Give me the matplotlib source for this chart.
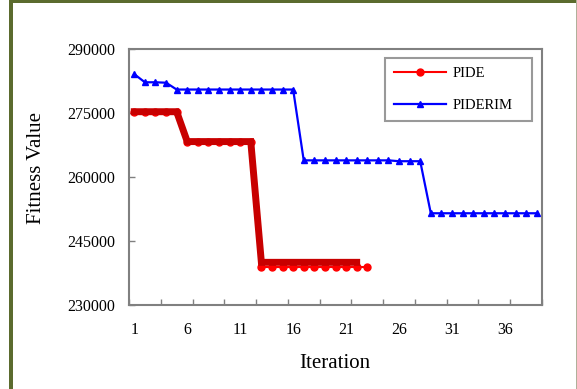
import matplotlib
matplotlib.use("Agg")
from matplotlib import pyplot as plt
from matplotlib.patches import Rectangle
from matplotlib.ticker import FixedLocator

plt.rcParams['font.family'] = ['Liberation Serif', 'DejaVu Serif']

# iteration numbers and fitness values
pide_iter = [1, 2, 3, 4, 5, 6, 7, 8, 9, 10, 11, 12, 13, 14, 15, 16, 17, 18, 19, 20, 21, 22, 23]
pide_vals = [275300, 275300, 275300, 275300, 275300,
             268300, 268300, 268300, 268300, 268300, 268300, 268300,
             238900, 238900, 238900, 238900, 238900, 238900, 238900, 238900, 238900, 238900, 238900]
# the heavy dark red trace drawn over PIDE
pide_bold_iter = [1, 2, 3, 4, 5, 6, 7, 8, 9, 10, 11, 12, 13, 14, 15, 16, 17, 18, 19, 20, 21, 22]
pide_bold_vals = [275300, 275300, 275300, 275300, 275300,
                  268300, 268300, 268300, 268300, 268300, 268300, 268300,
                  240000, 240000, 240000, 240000, 240000, 240000, 240000, 240000, 240000, 240000]
piderim_iter = list(range(1, 40))
piderim_vals = [284100, 282200, 282200, 282100,
                280500, 280500, 280500, 280500, 280500, 280500, 280500, 280500, 280500, 280500, 280500, 280500,
                263900, 263900, 263900, 263900, 263900, 263900, 263900, 263900, 263900,
                263700, 263700, 263700,
                251500, 251500, 251500, 251500, 251500, 251500, 251500, 251500, 251500, 251500, 251500]
x_labels = [1, 6, 11, 16, 21, 26, 31, 36]
y_ticks = [230000, 245000, 260000, 275000, 290000]

fig = plt.figure(figsize=(5.77, 3.89), dpi=100)
ax = fig.add_axes([129 / 577, 1 - 305 / 389, 413 / 577, 256 / 389])

ax.plot(pide_iter, pide_vals, color='#ff0000', lw=1.5, marker='o', markersize=5,
        label='PIDE', zorder=3)
ax.plot(pide_bold_iter, pide_bold_vals, color='#c80000', lw=5, solid_joinstyle='miter',
        zorder=4)
ax.plot(piderim_iter, piderim_vals, color='#0000ff', lw=1.6, marker='^', markersize=5,
        label='PIDERIM', zorder=3)

ax.set_xlim(0.5, 39.5)
ax.set_ylim(230000, 290000)
ax.set_xticks(x_labels)
ax.set_xticklabels([str(v) for v in x_labels])
ax.xaxis.set_minor_locator(FixedLocator([0.5 + 3 * k for k in range(14)]))
ax.set_yticks(y_ticks)
ax.set_yticklabels([str(v) for v in y_ticks])
ax.tick_params(axis='x', which='major', length=0, pad=12, labelsize=11.5)
ax.tick_params(axis='x', which='minor', direction='in', length=4, width=1, color='#808080')
ax.tick_params(axis='y', direction='in', length=4, width=1, color='#808080', pad=10, labelsize=11.5)
for s in ax.spines.values():
    s.set_color('#808080')
    s.set_linewidth(1.5)

ax.set_xlabel('Iteration', fontsize=15)
ax.set_ylabel('Fitness Value', fontsize=15)
ax.xaxis.set_label_coords(0.498, -0.2266)
ax.xaxis.label.set_va('center')
ax.yaxis.set_label_coords(-0.223, 0.537)
ax.yaxis.label.set_va('center')

leg = ax.legend(loc='upper left', bbox_to_anchor=(0.62, 0.7266, 0.355, 0.2371), mode='expand',
                fontsize=10.5, frameon=True, fancybox=False, borderpad=0.6, labelspacing=1.3,
                handlelength=3.6, handletextpad=0.4, borderaxespad=0)
leg.get_frame().set_edgecolor('#808080')
leg.get_frame().set_linewidth(1.5)

# olive frame round the picture
green = '#5b6b2e'
fig.add_artist(Rectangle((9.3 / 577, 0), 4 / 577, 1, transform=fig.transFigure,
                         color=green, lw=0))
fig.add_artist(Rectangle((9.3 / 577, 1 - 3.3 / 389), 1, 3.3 / 389, transform=fig.transFigure,
                         color=green, lw=0))
fig.add_artist(Rectangle((575.5 / 577, 0), 1.5 / 577, 1, transform=fig.transFigure,
                         color='#b0b09a', lw=0))

fig.savefig('out.png', dpi=100)
